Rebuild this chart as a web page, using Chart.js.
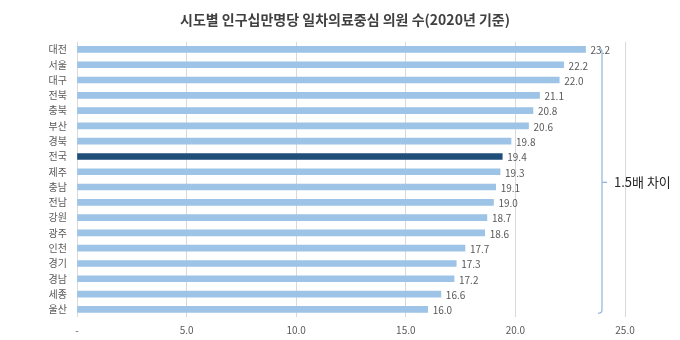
<!DOCTYPE html>
<html>
<head>
<meta charset="utf-8">
<script src="https://cdn.jsdelivr.net/npm/chart.js@4/dist/chart.umd.min.js"></script>
<style>
  html, body { margin: 0; padding: 0; background: #fff; }
  #wrap { width: 680px; height: 340px; position: relative; }
</style>
</head>
<body>
<div id="wrap"><canvas id="c" width="680" height="340"></canvas></div>
<script>
// 시도별 인구 십만명당 일차의료중심 의원 수 (2020년 기준)
const regions = ['대전','서울','대구','전북','충북','부산','경북','전국','제주','충남','전남','강원','광주','인천','경기','경남','세종','울산'];
const clinicsPer100k = [23.2, 22.2, 22.0, 21.1, 20.8, 20.6, 19.8, 19.4, 19.3, 19.1, 19.0, 18.7, 18.6, 17.7, 17.3, 17.2, 16.6, 16.0];
const xTicks = [0, 5, 10, 15, 20, 25];
const nationalLabel = '전국';
const gapNote = '1.5배 차이';

const FONT = '"Noto Sans CJK KR", "Noto Sans", sans-serif';
const LIGHT = '#9DC3E6';
const DARK = '#1F4E79';

const barColors = regions.map(r => r === nationalLabel ? DARK : LIGHT);

// value labels at the end of each bar
const valueLabels = {
  id: 'valueLabels',
  afterDatasetsDraw(chart) {
    const { ctx } = chart;
    const meta = chart.getDatasetMeta(0);
    ctx.save();
    ctx.font = '10px ' + FONT;
    ctx.fillStyle = '#595959';
    ctx.textBaseline = 'middle';
    ctx.textAlign = 'left';
    meta.data.forEach((bar, i) => {
      ctx.fillText(clinicsPer100k[i].toFixed(1), bar.x + 5, bar.y + 1);
    });
    ctx.restore();
  }
};

// brace spanning highest to lowest region, with the gap note
const gapBrace = {
  id: 'gapBrace',
  afterDatasetsDraw(chart) {
    const { ctx, scales } = chart;
    const meta = chart.getDatasetMeta(0);
    const first = meta.data[0];
    const last = meta.data[meta.data.length - 1];
    const bx = scales.x.getPixelForValue(23.95);
    const top = first.y;
    const bottom = last.y + 4;
    const mid = (top + bottom) / 2 + 1;
    ctx.save();
    ctx.strokeStyle = '#8FB4DA';
    ctx.lineWidth = 1.2;
    ctx.beginPath();
    ctx.moveTo(bx - 3, top - 1);
    ctx.quadraticCurveTo(bx, top - 1, bx, top + 3);
    ctx.lineTo(bx, bottom - 3);
    ctx.quadraticCurveTo(bx, bottom, bx - 4, bottom);
    ctx.moveTo(bx, mid);
    ctx.lineTo(bx + 5, mid);
    ctx.stroke();
    ctx.font = '13px ' + FONT;
    ctx.fillStyle = '#262626';
    ctx.textBaseline = 'middle';
    ctx.textAlign = 'left';
    ctx.fillText(gapNote, bx + 12, mid);
    ctx.restore();
  }
};

new Chart(document.getElementById('c'), {
  type: 'bar',
  data: {
    labels: regions,
    datasets: [{
      data: clinicsPer100k,
      backgroundColor: barColors,
      barThickness: 6,
      borderWidth: 0
    }]
  },
  options: {
    indexAxis: 'y',
    responsive: false,
    animation: false,
    layout: { padding: { left: 10, right: 0, top: 0, bottom: 0 } },
    plugins: {
      legend: { display: false },
      tooltip: { enabled: false },
      title: {
        display: true,
        text: '시도별 인구십만명당 일차의료중심 의원 수(2020년 기준)',
        color: '#404040',
        font: { family: FONT, size: 14, weight: 'bold' },
        padding: { top: 11, bottom: 14 }
      }
    },
    scales: {
      x: {
        min: 0,
        max: 25,
        afterBuildTicks(axis) {
          axis.ticks = xTicks.map(v => ({ value: v }));
        },
        afterFit(axis) { axis.height = 23; },
        ticks: {
          color: '#595959',
          font: { family: FONT, size: 10 },
          padding: 7,
          callback: v => v === 0 ? '-' : Number(v).toFixed(1)
        },
        grid: { color: '#D9D9D9', lineWidth: 1, drawTicks: false },
        border: { display: false }
      },
      y: {
        afterFit(axis) { axis.width = 67; },
        ticks: {
          color: '#595959',
          font: { family: FONT, size: 10 },
          padding: 10,
          autoSkip: false
        },
        grid: { display: false, drawTicks: false },
        border: { display: false }
      },
      // empty right-hand margin that holds the brace and its note
      side: {
        type: 'category',
        axis: 'y',
        position: 'right',
        labels: regions,
        afterFit(axis) { axis.width = 55; },
        ticks: { display: false },
        grid: { display: false, drawTicks: false },
        border: { display: false }
      }
    }
  },
  plugins: [valueLabels, gapBrace]
});
</script>
</body>
</html>
